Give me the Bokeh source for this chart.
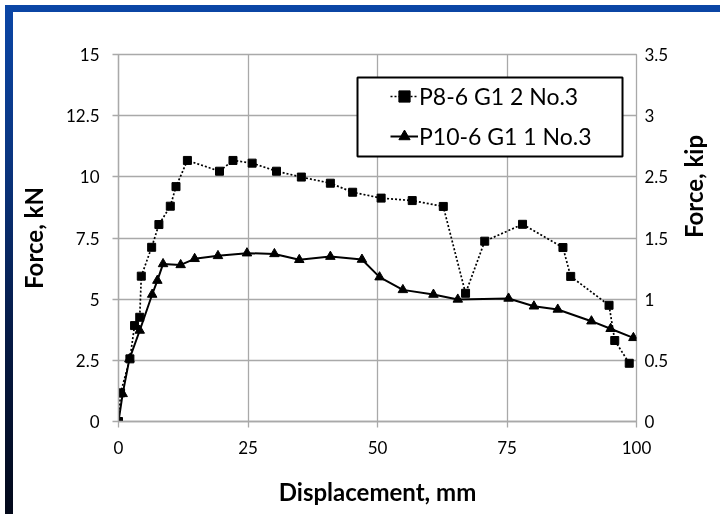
import math
from bokeh.plotting import figure
from bokeh.models import (LinearAxis, FixedTicker, Legend, LegendItem,
                          BoxAnnotation, Div, Range1d)
from bokeh.layouts import column
from bokeh.embed import file_html
from bokeh.resources import INLINE

# ---------------- data ----------------
series_names = ["P8-6 G1 2 No.3", "P10-6 G1 1 No.3"]

disp_p8 = [0, 0.4, 2.2, 3.1, 4.1, 4.4, 6.4, 7.8, 10.0, 11.1, 13.3, 19.5, 22.1,
           25.8, 30.5, 35.3, 40.9, 45.2, 50.7, 56.7, 62.7, 67.0, 70.7, 78.0,
           85.8, 87.3, 94.7, 95.8, 98.6]
force_p8 = [0, 1.17, 2.56, 3.92, 4.26, 5.94, 7.12, 8.05, 8.8, 9.6, 10.67, 10.23,
            10.67, 10.56, 10.23, 9.99, 9.74, 9.37, 9.13, 9.03, 8.79, 5.24, 7.37,
            8.06, 7.11, 5.93, 4.75, 3.31, 2.38]

disp_p10 = [0, 0.8, 2.1, 4.1, 6.5, 7.5, 8.6, 12.0, 14.7, 19.2, 24.8, 30.1, 34.9,
            40.9, 47.0, 50.4, 54.9, 60.8, 65.5, 75.3, 80.2, 84.8, 91.3, 95.0, 99.4]
force_p10 = [0, 1.13, 2.55, 3.72, 5.19, 5.76, 6.44, 6.4, 6.65, 6.77, 6.88, 6.85,
             6.61, 6.74, 6.62, 5.9, 5.38, 5.19, 4.99, 5.03, 4.71, 4.58, 4.1, 3.79,
             3.42]

x_ticks = [0, 25, 50, 75, 100]
kn_ticks = [0, 2.5, 5, 7.5, 10, 12.5, 15]
kn_labels = ["0", "2.5", "5", "7.5", "10", "12.5", "15"]
kip_labels = ["0", "0.5", "1", "1.5", "2.5", "3", "3.5"]

x_title = "Displacement, mm"
y_title = "Force, kN"
y2_title = "Force, kip"

# ---------------- styling ----------------
GRID = "#a9a9a9"
FONT = "Lato"
TICK_SIZE = "17px"
TITLE_SIZE = "24px"

p = figure(frame_width=518, frame_height=367,
           x_range=Range1d(0, 100), y_range=Range1d(0, 15),
           output_backend="svg", toolbar_location=None,
           min_border_left=118, min_border_right=84,
           min_border_top=54, min_border_bottom=93)
p.background_fill_color = "white"
p.border_fill_alpha = 0
p.outline_line_color = GRID
p.outline_line_width = 1.3

p.xgrid.ticker = FixedTicker(ticks=x_ticks)
p.ygrid.ticker = FixedTicker(ticks=kn_ticks)
for g in (p.xgrid, p.ygrid):
    g.grid_line_color = GRID
    g.grid_line_width = 1.3

def style_axis(ax):
    ax.axis_line_color = GRID
    ax.axis_line_width = 1.3
    ax.major_tick_line_color = GRID
    ax.major_tick_line_width = 1.3
    ax.major_tick_in = 0
    ax.major_tick_out = 6
    ax.minor_tick_line_color = None
    ax.major_label_text_font = FONT
    ax.major_label_text_font_size = TICK_SIZE
    ax.major_label_text_color = "black"
    ax.axis_label_text_font = FONT
    ax.axis_label_text_font_size = TITLE_SIZE
    ax.axis_label_text_font_style = "bold"
    ax.axis_label_text_color = "black"

xa = p.xaxis[0]
style_axis(xa)
xa.ticker = FixedTicker(ticks=x_ticks)
xa.axis_label = x_title
xa.major_label_standoff = 13
xa.axis_label_standoff = 20

ya = p.yaxis[0]
style_axis(ya)
ya.ticker = FixedTicker(ticks=kn_ticks)
ya.major_label_overrides = {t: l for t, l in zip(kn_ticks, kn_labels)}
ya.axis_label = y_title
ya.major_label_standoff = 13
ya.axis_label_standoff = 15

ra = LinearAxis(ticker=FixedTicker(ticks=kn_ticks),
                major_label_overrides={t: l for t, l in zip(kn_ticks, kip_labels)},
                axis_label=y2_title)
style_axis(ra)
ra.axis_line_color = None
ra.major_tick_line_color = None
ra.major_tick_out = 0
ra.major_label_standoff = 8
ra.major_label_text_align = "center"
ra.axis_label_standoff = 22
if hasattr(ra, "axis_label_orientation"):
    ra.axis_label_orientation = math.pi / 2
p.add_layout(ra, "right")

# ---------------- series ----------------
l1 = p.line(disp_p8, force_p8, line_color="black", line_width=1.7, line_dash="2 2")
s1 = p.scatter(disp_p8, force_p8, marker="square", size=8,
               fill_color="black", line_color="black")
l2 = p.line(disp_p10, force_p10, line_color="black", line_width=2)
s2 = p.scatter(disp_p10, force_p10, marker="triangle", size=9.5,
               fill_color="black", line_color="black")

# ---------------- legend ----------------
xr, yr = p.x_range, p.y_range
box = BoxAnnotation(left=xr.start + 0.4614 * (xr.end - xr.start),
                    right=xr.start + 0.973 * (xr.end - xr.start),
                    top=yr.start + 0.9373 * (yr.end - yr.start),
                    bottom=yr.start + 0.722 * (yr.end - yr.start),
                    fill_color="white", fill_alpha=1,
                    line_color="black", line_width=2, line_alpha=1)
p.add_layout(box)

legend = Legend(items=[LegendItem(label=series_names[0], renderers=[l1, s1]),
                       LegendItem(label=series_names[1], renderers=[l2, s2])],
                location=(266, 265), padding=6, spacing=12, margin=0,
                label_height=28, glyph_height=28, glyph_width=28,
                label_standoff=1, label_text_font=FONT,
                label_text_font_size="23px", label_text_color="black",
                border_line_alpha=0, background_fill_alpha=0)
p.add_layout(legend)

# ---------------- page frame (blue gradient border, white sheet) ----------------
bg = Div(text="", styles={
    "position": "fixed", "left": "0px", "top": "0px",
    "width": "720px", "height": "514px",
    "background": ("linear-gradient(#ffffff, #ffffff) 8px 7px / 712px 507px no-repeat, "
                   "linear-gradient(to bottom, #0b46a6 0%, #0a3580 30%, #061a45 65%, #030818 100%)"),
    "z-index": "-1"})

layout = column(p, bg)
open("out.html", "w").write(file_html(layout, INLINE))
